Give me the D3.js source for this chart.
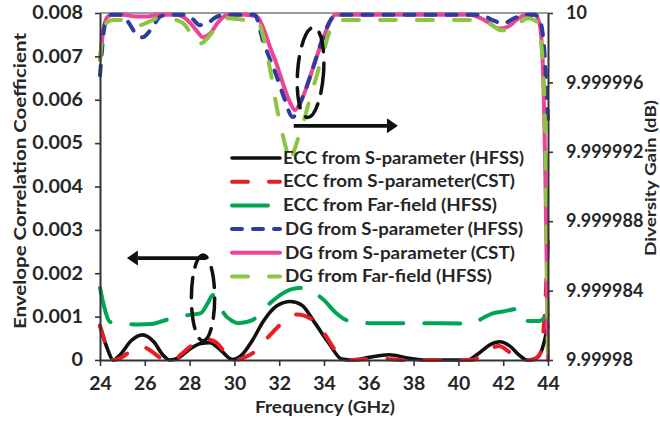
<!DOCTYPE html>
<html>
<head>
<meta charset="utf-8">
<script src="https://cdn.jsdelivr.net/npm/d3@7"></script>
<style>
  body { margin: 0; background: #fff; }
  svg { display: block; }
</style>
</head>
<body>
<svg id="chart" width="660" height="422"></svg>
<script>
// Axis ticks
const freqTicks = [24, 26, 28, 30, 32, 34, 36, 38, 40, 42, 44];
const eccTicks = [0, 0.001, 0.002, 0.003, 0.004, 0.005, 0.006, 0.007, 0.008];
const eccTickLabels = ["0", "0.001", "0.002", "0.003", "0.004", "0.005", "0.006", "0.007", "0.008"];
const dgTicks = [9.99998, 9.999984, 9.999988, 9.999992, 9.999996, 10];
const dgTickLabels = ["9.99998", "9.999984", "9.999988", "9.999992", "9.999996", "10"];

// ECC series: [frequency (GHz), ECC]
const eccSparamHfss = [[24.0,0.00078],[24.3,0.0003],[24.6,0],[24.9,0.00012],[25.4,0.00045],[25.9,0.00058],[26.4,0.00042],[26.8,0.00012],[27.1,0],[27.5,0.00005],[28.0,0.00025],[28.5,0.00038],[28.9,0.0004],[29.4,0.00022],[29.9,0.00001],[30.3,0.0001],[30.8,0.00045],[31.3,0.0009],[31.9,0.00125],[32.5,0.00135],[33.0,0.00127],[33.6,0.00085],[34.2,0.0004],[34.8,0.00002],[35.3,0],[36.0,0.00006],[36.9,0.00012],[37.8,0.00004],[38.5,0],[40.4,0],[40.9,0.00015],[41.4,0.00035],[41.85,0.00042],[42.3,0.00032],[42.7,0.00012],[43.05,0],[43.4,0.00002],[43.7,0.0002],[44.0,0.0008]];
const eccSparamCst = [[24.0,0.0008],[24.3,0.0003],[24.6,0],[25.0,0.00007],[25.4,0.00022],[25.8,0.0003],[26.1,0.00027],[26.5,0.00012],[26.9,0],[27.3,0],[27.6,0.00012],[28.0,0.0003],[28.4,0.00044],[28.8,0.00047],[29.2,0.0004],[29.6,0.00016],[30.0,0],[30.4,0.00005],[31.0,0.00023],[31.6,0.00058],[32.2,0.00088],[32.8,0.00105],[33.5,0.00092],[34.0,0.00062],[34.5,0.00023],[34.9,0.00005],[35.2,0],[36.5,0.00003],[37.5,0],[40.6,0],[41.2,0.00018],[41.8,0.00032],[42.4,0.00014],[42.9,0.00001],[43.2,0],[43.6,0.0001],[43.8,0.0007],[43.95,0.0021],[44.0,0.0028]];
const eccFarfieldHfss = [[24.0,0.00166],[24.2,0.0012],[24.45,0.00088],[25.0,0.00084],[25.7,0.00082],[26.3,0.00083],[26.8,0.0009],[27.4,0.00099],[28.0,0.00104],[28.5,0.00108],[28.8,0.0013],[29.05,0.0015],[29.25,0.0014],[29.5,0.0011],[29.9,0.0009],[30.2,0.00085],[30.8,0.00092],[31.5,0.00127],[32.3,0.00158],[32.9,0.00166],[33.5,0.00157],[34.0,0.00138],[34.5,0.0011],[35.0,0.00092],[36.0,0.00085],[38.0,0.00085],[40.6,0.00084],[41.1,0.00097],[41.5,0.00107],[42.0,0.00112],[42.6,0.00117],[42.75,0.00093],[43.2,0.0009],[43.6,0.0009],[44.0,0.00105]];

// Diversity gain series: [frequency (GHz), DG (dB)]
const dgSparamHfss = [[24.0,9.9999964],[24.25,9.9999995],[24.5,9.9999999],[25.0,9.9999999],[25.25,9.9999995],[25.55,9.9999989],[25.9,9.9999986],[26.3,9.9999991],[26.7,9.9999998],[27.05,9.9999999],[27.8,9.9999999],[28.1,9.9999997],[28.45,9.9999993],[28.8,9.9999994],[29.1,9.9999997],[29.6,9.9999999],[30.9,9.9999999],[31.3,9.9999983],[31.6,9.9999973],[31.9,9.9999963],[32.25,9.999995],[32.6,9.999994],[33.0,9.999995],[33.5,9.9999968],[33.9,9.9999984],[34.3,9.9999996],[34.6,9.9999999],[41.0,9.9999999],[41.5,9.9999996],[42.0,9.9999994],[42.5,9.9999997],[43.0,9.9999999],[43.4,9.9999999],[43.6,9.9999997],[43.8,9.9999984],[44.0,9.9999938]];
const dgSparamCst = [[24.0,9.9999973],[24.15,9.999999],[24.35,9.9999998],[24.6,9.9999999],[25.0,9.9999999],[25.6,9.9999998],[26.1,9.9999998],[26.7,9.9999999],[27.4,9.9999999],[27.9,9.9999996],[28.3,9.999999],[28.6,9.9999986],[28.9,9.9999988],[29.3,9.9999995],[29.7,9.9999999],[30.5,9.9999999],[31.0,9.9999998],[31.3,9.9999991],[31.6,9.999998],[31.9,9.999997],[32.2,9.9999958],[32.5,9.9999948],[32.7,9.9999944],[33.0,9.999995],[33.3,9.999996],[33.6,9.9999972],[33.9,9.9999983],[34.2,9.9999993],[34.5,9.9999999],[40.5,9.9999999],[41.0,9.9999997],[41.4,9.9999994],[41.8,9.9999991],[42.2,9.9999992],[42.6,9.9999996],[43.0,9.9999999],[43.4,9.9999999],[43.6,9.9999995],[43.75,9.9999976],[43.9,9.9999892],[44.0,9.99998]];
const dgFarfieldHfss = [[24.0,9.9999973],[24.15,9.999999],[24.35,9.9999995],[24.6,9.9999996],[25.0,9.9999996],[25.4,9.9999995],[25.8,9.9999993],[26.2,9.9999995],[26.6,9.9999997],[27.0,9.9999997],[27.4,9.9999996],[27.8,9.9999993],[28.1,9.9999987],[28.35,9.9999982],[28.6,9.9999983],[28.9,9.9999987],[29.3,9.9999994],[29.7,9.9999997],[30.5,9.9999996],[31.0,9.9999996],[31.3,9.9999986],[31.6,9.9999967],[31.9,9.9999945],[32.15,9.999993],[32.35,9.999992],[32.5,9.9999914],[32.65,9.999992],[32.85,9.9999928],[33.1,9.9999938],[33.4,9.9999952],[33.7,9.9999965],[34.0,9.9999979],[34.3,9.9999991],[34.6,9.9999996],[41.0,9.9999996],[41.5,9.9999993],[41.9,9.999999],[42.3,9.999999],[42.7,9.9999994],[43.1,9.9999997],[43.5,9.9999995],[43.7,9.9999982],[43.85,9.9999944],[44.0,9.99998]];

const legendLabels = [
  "ECC from S-parameter (HFSS)",
  "ECC from S-parameter(CST)",
  "ECC from Far-field (HFSS)",
  "DG from S-parameter (HFSS)",
  "DG from S-parameter (CST)",
  "DG from Far-field (HFSS)"
];

const FONT = "Lato, 'Open Sans', sans-serif";
const TEXT = "#262626";

const svg = d3.select("#chart");
const plot = { left: 100, right: 548, top: 13, bottom: 360 };

const x = d3.scaleLinear().domain([24, 44]).range([plot.left, plot.right]);
const yL = d3.scaleLinear().domain([0, 0.008]).range([plot.bottom, plot.top]);
const yR = d3.scaleLinear().domain([9.99998, 10]).range([plot.bottom, plot.top]);

// stretch text horizontally by a factor, keeping its height
function widen(sel, factor) {
  sel.each(function () {
    const w = this.getComputedTextLength();
    d3.select(this).attr("textLength", w * factor).attr("lengthAdjust", "spacingAndGlyphs");
  });
}

// Series definitions (draw order: ECC first, DG on top)
const series = [
  { data: eccSparamHfss,  y: yL, color: "#111111", width: 3.6, dash: null },
  { data: eccSparamCst,   y: yL, color: "#ec1c24", width: 4,   dash: "16,21" },
  { data: eccFarfieldHfss,y: yL, color: "#00a651", width: 4,   dash: "36,21" },
  { data: dgSparamCst,    y: yR, color: "#ec4499", width: 4,   dash: null },
  { data: dgSparamHfss,   y: yR, color: "#2e3d9c", width: 4,   dash: "10,11" },
  { data: dgFarfieldHfss, y: yR, color: "#8cc63f", width: 4,   dash: "16,21" }
];
const legendSeries = [series[0], series[1], series[2], series[4], series[3], series[5]];

// Frame: top border
svg.append("line")
  .attr("x1", plot.left).attr("x2", plot.right)
  .attr("y1", plot.top).attr("y2", plot.top)
  .attr("stroke", "#7a7a7a").attr("stroke-width", 1.5);

// Curves
const linesG = svg.append("g");
series.forEach(s => {
  const line = d3.line()
    .x(d => x(d[0]))
    .y(d => s.y(d[1]))
    .curve(d3.curveMonotoneX);
  linesG.append("path")
    .datum(s.data)
    .attr("d", line)
    .attr("fill", "none")
    .attr("stroke", s.color)
    .attr("stroke-width", s.width)
    .attr("stroke-linecap", "round")
    .attr("stroke-linejoin", "round")
    .attr("stroke-dasharray", s.dash);
});

// Axes
function styleAxis(g, size, factor) {
  g.selectAll("path.domain").attr("stroke", "#333").attr("stroke-width", 2);
  g.selectAll(".tick line").attr("stroke", "#333").attr("stroke-width", 1.6);
  g.selectAll("text")
    .attr("fill", TEXT)
    .style("font-family", FONT)
    .style("font-weight", "700")
    .style("font-size", size + "px");
  widen(g.selectAll("text"), factor);
}

const gx = svg.append("g")
  .attr("transform", `translate(0,${plot.bottom})`)
  .call(d3.axisBottom(x).tickValues(freqTicks).tickFormat(d3.format("d"))
    .tickSize(6).tickSizeOuter(0).tickPadding(11));
styleAxis(gx, 18, 1.08);

const gl = svg.append("g")
  .attr("transform", `translate(${plot.left},0)`)
  .call(d3.axisLeft(yL).tickValues(eccTicks).tickFormat((d, i) => eccTickLabels[i])
    .tickSize(5).tickSizeOuter(0).tickPadding(12));
styleAxis(gl, 18, 1.1);

const gr = svg.append("g")
  .attr("transform", `translate(${plot.right},0)`)
  .call(d3.axisRight(yR).tickValues(dgTicks).tickFormat((d, i) => dgTickLabels[i])
    .tickSize(5).tickSizeOuter(0).tickPadding(13));
styleAxis(gr, 18, 1.0);

// Axis titles
function title(txt, tx, ty, rot, size, length) {
  svg.append("text")
    .attr("transform", `translate(${tx},${ty}) rotate(${rot})`)
    .attr("text-anchor", "middle")
    .attr("fill", TEXT)
    .style("font-family", FONT)
    .style("font-weight", "700")
    .style("font-size", size + "px")
    .attr("textLength", length)
    .attr("lengthAdjust", "spacingAndGlyphs")
    .text(txt);
}
title("Frequency (GHz)", 325, 413, 0, 17, 140);
title("Envelope Correlation Coefficient", 26, 181, -90, 17, 296);
title("Diversity Gain (dB)", 656, 178, -90, 16, 156);

// Legend
const legend = svg.append("g");
const lx0 = 230, lx1 = 282, ly0 = 158, lstep = 23.7;
const legendWidths = [241, 232, 214, 238, 230, 207];
legendSeries.forEach((s, i) => {
  const yy = ly0 + i * lstep;
  legend.append("line")
    .attr("x1", lx0 + 2).attr("x2", lx1 - 2)
    .attr("y1", yy).attr("y2", yy)
    .attr("stroke", s.color)
    .attr("stroke-width", s.width)
    .attr("stroke-linecap", "round")
    .attr("stroke-dasharray", s.dash);
  legend.append("text")
    .attr("x", i < 3 ? lx1 + 1 : lx1 + 3)
    .attr("y", yy)
    .attr("dy", "0.35em")
    .attr("fill", TEXT)
    .attr("textLength", legendWidths[i])
    .attr("lengthAdjust", "spacingAndGlyphs")
    .style("font-family", FONT)
    .style("font-weight", "700")
    .style("font-size", "16.5px")
    .text(legendLabels[i]);
});

// Annotations: dashed ellipses marking the two groups, arrows pointing to their axes
const ann = svg.append("g")
  .attr("fill", "none").attr("stroke", "#111");

function ellipse(cf, cv, scaleY, rxGHz, ryVal, rot) {
  const cx = x(cf), cy = scaleY(cv);
  ann.append("ellipse")
    .attr("cx", cx).attr("cy", cy)
    .attr("rx", x(24 + rxGHz) - x(24))
    .attr("ry", Math.abs(scaleY(cv + ryVal) - cy))
    .attr("transform", `rotate(${rot},${cx},${cy})`)
    .attr("stroke-width", 3.5)
    .attr("stroke-dasharray", "20,11")
    .attr("stroke-linecap", "round");
}
ellipse(33.4, 0.00663, yL, 0.58, 0.00104, 4);
ellipse(28.6, 0.00143, yL, 0.52, 0.00099, 0);

function arrow(f0, f1, v, scaleY) {
  const x0 = x(f0), x1 = x(f1), yy = scaleY(v);
  const dir = Math.sign(x1 - x0);
  const head = 11, half = 7.5;
  ann.append("line")
    .attr("x1", x0).attr("x2", x1 - dir * head)
    .attr("y1", yy).attr("y2", yy)
    .attr("stroke-width", 3.8);
  ann.append("path")
    .attr("d", `M${x1},${yy} L${x1 - dir * head},${yy - half} L${x1 - dir * head},${yy + half} Z`)
    .attr("fill", "#111").attr("stroke", "none");
}
arrow(32.65, 37.3, 0.0054, yL);
arrow(28.75, 25.2, 0.00235, yL);
</script>
</body>
</html>
